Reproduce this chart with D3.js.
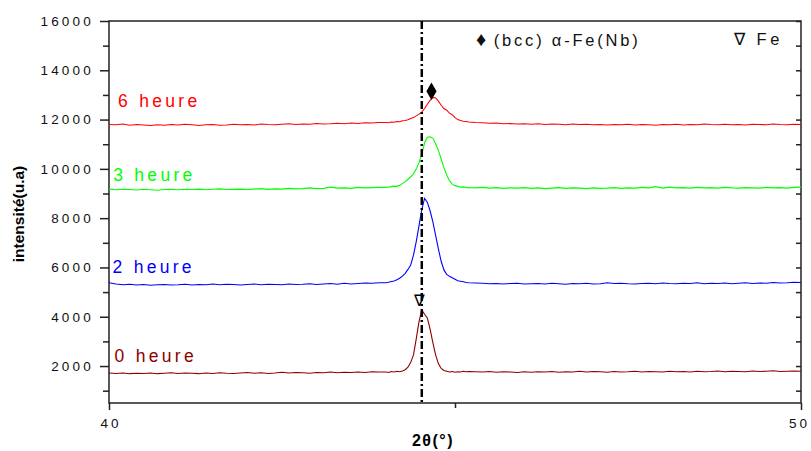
<!DOCTYPE html>
<html>
<head>
<meta charset="utf-8">
<script src="https://cdn.jsdelivr.net/npm/d3@7"></script>
<style>
  body { margin: 0; background: #fff; }
  text { font-family: "Liberation Sans", Arial, sans-serif; }
</style>
</head>
<body>
<div id="chart"></div>
<script>
// 2theta sampling: 0.1 deg steps, finer (0.04) across the peak
var twoTheta = [].concat(
  d3.range(400, 440).map(i => i / 10),
  d3.range(1100, 1130).map(i => i / 25),
  d3.range(452, 501).map(i => i / 10)
)

var labels = ["0 heure", "2 heure", "3 heure", "6 heure"]
var colors = ["#8b0000", "#0000ff", "#00ff00", "#ff0000"]

var heure0 = [
  1720, 1700, 1720, 1690, 1710, 1700, 1720, 1690, 1710, 1730,
  1700, 1720, 1710, 1690, 1720, 1700, 1730, 1710, 1700, 1720,
  1740, 1710, 1730, 1700, 1720, 1750, 1720, 1740, 1730, 1710,
  1740, 1730, 1760, 1730, 1750, 1740, 1760, 1740, 1770, 1760,
  // peak
  1760, 1740, 1780, 1760, 1790, 1770, 1800, 1850, 1950, 2150,
  2450, 3100, 3800, 4280, 4100, 3950, 3500, 2950, 2450, 2100,
  1900, 1820, 1790, 1760, 1780, 1750, 1770, 1760, 1790, 1770,
  // right
  1780, 1770, 1760, 1780, 1750, 1770, 1760, 1740, 1770, 1750,
  1770, 1760, 1780, 1750, 1770, 1760, 1790, 1760, 1780, 1770,
  1750, 1780, 1760, 1770, 1790, 1760, 1780, 1770, 1760, 1790,
  1770, 1780, 1760, 1790, 1770, 1780, 1800, 1770, 1790, 1780,
  1770, 1800, 1780, 1790, 1810, 1780, 1790, 1800, 1790
]

var heure2 = [
  5380, 5330, 5300, 5320, 5290, 5310, 5280, 5300, 5310, 5290,
  5300, 5320, 5290, 5310, 5300, 5330, 5300, 5320, 5310, 5290,
  5310, 5330, 5300, 5320, 5310, 5300, 5330, 5310, 5320, 5340,
  5310, 5330, 5350, 5320, 5360, 5330, 5350, 5370, 5360, 5380,
  // peak
  5380, 5400, 5430, 5450, 5500, 5560, 5650, 5760, 5920, 6100,
  6500, 7050, 7700, 8350, 8800, 8650, 8300, 7850, 7300, 6750,
  6250, 5900, 5720, 5640, 5580, 5520, 5460, 5440, 5420, 5390,
  // right
  5380, 5370, 5360, 5340, 5350, 5330, 5350, 5360, 5330, 5340,
  5350, 5330, 5360, 5340, 5320, 5350, 5340, 5360, 5330, 5340,
  5380, 5350, 5360, 5340, 5330, 5350, 5360, 5340, 5370, 5350,
  5340, 5360, 5350, 5380, 5340, 5360, 5350, 5370, 5340, 5360,
  5380, 5350, 5370, 5360, 5390, 5370, 5380, 5400, 5390
]

var heure3 = [
  9180, 9150, 9170, 9160, 9140, 9170, 9150, 9130, 9160, 9170,
  9150, 9170, 9160, 9180, 9150, 9170, 9190, 9160, 9170, 9180,
  9160, 9180, 9200, 9170, 9190, 9180, 9210, 9190, 9200, 9230,
  9200, 9210, 9260, 9220, 9230, 9210, 9250, 9230, 9240, 9250,
  // peak
  9250, 9260, 9280, 9300, 9290, 9330, 9400, 9480, 9580, 9680,
  9800, 10000, 10250, 10600, 11050, 11280, 11300, 11250, 11020, 10750,
  10400, 10050, 9750, 9520, 9380, 9320, 9290, 9260, 9270, 9250,
  // right
  9240, 9230, 9250, 9220, 9240, 9210, 9230, 9220, 9240, 9210,
  9230, 9200, 9220, 9240, 9210, 9230, 9220, 9200, 9230, 9210,
  9220, 9240, 9210, 9230, 9220, 9250, 9230, 9280, 9220, 9260,
  9230, 9240, 9220, 9250, 9230, 9240, 9220, 9250, 9230, 9220,
  9240, 9230, 9220, 9250, 9230, 9240, 9220, 9250, 9260
]

var heure6 = [
  11800, 11790, 11820, 11770, 11800, 11780, 11760, 11790, 11770, 11800,
  11780, 11810, 11790, 11760, 11790, 11800, 11770, 11780, 11810, 11790,
  11800, 11780, 11820, 11800, 11790, 11810, 11830, 11800, 11820, 11810,
  11840, 11820, 11830, 11850, 11830, 11860, 11840, 11870, 11860, 11880,
  // peak
  11880, 11870, 11900, 11890, 11920, 11910, 11950, 11960, 11990, 12040,
  12080, 12150, 12220, 12300, 12450, 12620, 12780, 12900, 12880, 12750,
  12580, 12450, 12380, 12260, 12200, 12080, 12000, 11960, 11930, 11920,
  // right
  11900, 11880, 11870, 11850, 11860, 11830, 11840, 11820, 11830, 11810,
  11830, 11800, 11820, 11810, 11790, 11820, 11800, 11810, 11790, 11800,
  11780, 11800, 11790, 11810, 11780, 11800, 11790, 11770, 11800, 11790,
  11810, 11780, 11800, 11790, 11820, 11800, 11790, 11810, 11790, 11800,
  11780, 11810, 11800, 11790, 11820, 11800, 11790, 11810, 11800
]

var series = [heure0, heure2, heure3, heure6]
var labelPos = [[40.08, 2180], [40.05, 5760], [40.06, 9520], [40.13, 12500]]

var yTicks = [2000, 4000, 6000, 8000, 10000, 12000, 14000, 16000]
var yMinor = [1000, 3000, 5000, 7000, 9000, 11000, 13000, 15000]
var xTicks = [40, 50]
var xMinor = [45]

var refLine = 44.52
var bccMark = [44.66, 13150]
var feMark = [44.49, 4450]

var w = 811
var h = 451
var margin = {top: 21, right: 10, bottom: 48, left: 109}

var svg = d3.select("#chart")
  .append("svg")
  .attr("width", w)
  .attr("height", h)

var x = d3.scaleLinear()
  .domain([40, 50])
  .range([margin.left, w - margin.right])

var y = d3.scaleLinear()
  .domain([500, 16000])
  .range([h - margin.bottom, margin.top])

var axisColor = "#222"

// frame
svg.append("rect")
  .attr("x", x(40)).attr("y", y(16000))
  .attr("width", x(50) - x(40)).attr("height", y(500) - y(16000))
  .attr("fill", "none").attr("stroke", axisColor).attr("stroke-width", 1.5)

// left axis
var left = svg.append("g")
  .attr("transform", "translate(" + x(40) + ",0)")
  .call(d3.axisLeft(y).tickValues(yTicks).tickSize(9).tickPadding(7).tickFormat(d3.format("d")))
left.select(".domain").remove()
left.selectAll(".tick line").attr("stroke", axisColor).attr("stroke-width", 1.5)
left.selectAll(".tick text")
  .attr("font-size", 13.5)
  .attr("letter-spacing", "3.2px")
  .attr("dx", "1px")
  .attr("fill", "#111")
  .style("font-family", "'Liberation Sans', Arial, sans-serif")

svg.append("g")
  .attr("transform", "translate(" + x(40) + ",0)")
  .call(d3.axisLeft(y).tickValues(yMinor).tickSize(6).tickFormat(""))
  .call(g => g.select(".domain").remove())
  .selectAll(".tick line").attr("stroke", axisColor).attr("stroke-width", 1.5)

// right axis, inner ticks
svg.append("g")
  .attr("transform", "translate(" + x(50) + ",0)")
  .call(d3.axisLeft(y).tickValues(yTicks.concat(yMinor)).tickSize(5).tickFormat(""))
  .call(g => g.select(".domain").remove())
  .selectAll(".tick line").attr("stroke", axisColor).attr("stroke-width", 1.5)

// bottom axis
var bottom = svg.append("g")
  .attr("transform", "translate(0," + y(500) + ")")
  .call(d3.axisBottom(x).tickValues(xTicks).tickSize(7).tickPadding(8))
bottom.select(".domain").remove()
bottom.selectAll(".tick line").attr("stroke", axisColor).attr("stroke-width", 1.5)
bottom.selectAll(".tick text")
  .attr("font-size", 13.5)
  .attr("letter-spacing", "3px")
  .attr("dx", (d, i) => i === 1 ? "-2px" : "1.5px")
  .attr("fill", "#111")
  .style("font-family", "'Liberation Sans', Arial, sans-serif")

svg.append("g")
  .attr("transform", "translate(0," + y(500) + ")")
  .call(d3.axisBottom(x).tickValues(xMinor).tickSize(5).tickFormat(""))
  .call(g => g.select(".domain").remove())
  .selectAll(".tick line").attr("stroke", axisColor).attr("stroke-width", 1.5)

// spectra
var line = d3.line()
  .x((d, i) => x(twoTheta[i]))
  .y(d => y(d))

svg.selectAll("path.spectrum")
  .data(series)
  .enter()
  .append("path")
  .attr("class", "spectrum")
  .attr("d", d => line(d.slice(0, twoTheta.length)))
  .attr("fill", "none")
  .attr("stroke", (d, i) => colors[i])
  .attr("stroke-width", 1.1)

// series labels
svg.selectAll("text.lbl")
  .data(labels)
  .enter()
  .append("text")
  .attr("class", "lbl")
  .attr("x", (d, i) => x(labelPos[i][0]))
  .attr("y", (d, i) => y(labelPos[i][1]))
  .attr("font-size", 17.5)
  .attr("letter-spacing", "3.3px")
  .attr("fill", (d, i) => colors[i])
  .text(d => d)

// reference dash-dot line
svg.append("line")
  .attr("x1", x(refLine)).attr("x2", x(refLine))
  .attr("y1", y(16000)).attr("y2", y(500))
  .attr("stroke", "#000")
  .attr("stroke-width", 2.5)
  .attr("stroke-dasharray", "8,3,2,3")

// peak markers
svg.append("path")
  .attr("d", d3.symbol(d3.symbolDiamond, 90)())
  .attr("transform", "translate(" + x(bccMark[0]) + "," + y(bccMark[1]) + ")")
  .attr("fill", "#000")

svg.append("text")
  .attr("x", x(feMark[0]))
  .attr("y", y(feMark[1]))
  .attr("text-anchor", "middle")
  .attr("font-size", 16)
  .attr("fill", "#000")
  .text("\u2207")

// legend
var leg = svg.append("text")
  .attr("x", 476).attr("y", 46)
  .attr("font-size", 16.5)
  .attr("letter-spacing", "2.8px")
  .attr("fill", "#111")
leg.append("tspan").attr("font-size", 20).attr("letter-spacing", "1px").text("\u2666 ")
leg.append("tspan").text("(bcc) \u03b1-Fe(Nb)")

svg.append("text")
  .attr("x", 734).attr("y", 45)
  .attr("font-size", 16.5)
  .attr("letter-spacing", "3.5px")
  .attr("fill", "#111")
  .text("\u2207 Fe")

// axis titles
svg.append("text")
  .attr("x", 433)
  .attr("y", 446)
  .attr("text-anchor", "middle")
  .attr("font-size", 16)
  .attr("font-weight", "bold")
  .attr("letter-spacing", "1.5px")
  .text("2\u03b8(\u00b0)")

svg.append("text")
  .attr("transform", "translate(24," + 214 + ") rotate(-90)")
  .attr("text-anchor", "middle")
  .attr("font-size", 15.5)
  .attr("font-weight", "bold")
  .text("intensit\u00e9(u.a)")
</script>
</body>
</html>
